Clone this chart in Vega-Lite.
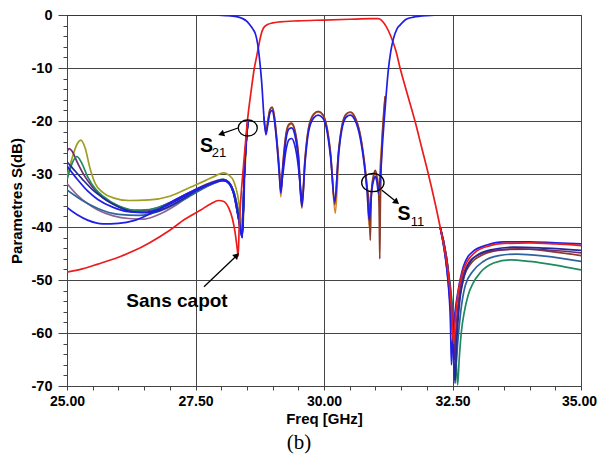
{
  "$schema": "https://vega.github.io/schema/vega-lite/v6.json",
  "width": 514,
  "height": 371,
  "autosize": "none",
  "padding": {"left": 67, "top": 15, "right": 16, "bottom": 76},
  "background": "white",
  "config": {"view": {"stroke": "#444", "strokeWidth": 1}, "font": "Liberation Sans"},
  "title": {"text": "(b)", "orient": "bottom", "anchor": "middle", "frame": "group", "dx": -25, "offset": 6, "font": "Liberation Serif", "fontSize": 21, "fontWeight": "normal", "color": "black"},
  "datasets": {
    "curves": [
      {"c":"olive","k":"o1","f":25.0,"v":-30.5},{"c":"olive","k":"o1","f":25.1,"v":-27},{"c":"olive","k":"o1","f":25.2,"v":-24.3},{"c":"olive","k":"o1","f":25.27,"v":-23.6},{"c":"olive","k":"o1","f":25.35,"v":-25},{"c":"olive","k":"o1","f":25.45,"v":-29},{"c":"olive","k":"o1","f":25.55,"v":-31.8},{"c":"olive","k":"o1","f":25.7,"v":-33.5},{"c":"olive","k":"o1","f":25.9,"v":-34.5},{"c":"olive","k":"o1","f":26.2,"v":-35},{"c":"olive","k":"o1","f":26.6,"v":-34.9},{"c":"olive","k":"o1","f":27.0,"v":-34.2},{"c":"olive","k":"o1","f":27.4,"v":-32.5},{"c":"olive","k":"o1","f":27.7,"v":-31.2},{"c":"olive","k":"o1","f":27.9,"v":-30.3},{"c":"olive","k":"o1","f":28.04,"v":-29.8},{"c":"olive","k":"o1","f":28.15,"v":-30.2},{"c":"olive","k":"o1","f":28.25,"v":-31.5},{"c":"olive","k":"o1","f":28.32,"v":-34},{"c":"olive","k":"o1","f":28.38,"v":-38},{"c":"olive","k":"o1","f":28.42,"v":-41},{"c":"olive","k":"o1","f":28.46,"v":-30},{"c":"olive","k":"o1","f":28.52,"v":-20},
      {"c":"mauve","k":"m1","f":25.0,"v":-31.8},{"c":"mauve","k":"m1","f":25.2,"v":-34},{"c":"mauve","k":"m1","f":25.4,"v":-35.6},{"c":"mauve","k":"m1","f":25.6,"v":-36.8},{"c":"mauve","k":"m1","f":25.9,"v":-37.9},{"c":"mauve","k":"m1","f":26.2,"v":-38.4},{"c":"mauve","k":"m1","f":26.5,"v":-38.5},{"c":"mauve","k":"m1","f":26.8,"v":-37.6},{"c":"mauve","k":"m1","f":27.1,"v":-36},{"c":"mauve","k":"m1","f":27.4,"v":-34},{"c":"mauve","k":"m1","f":27.7,"v":-32.4},{"c":"mauve","k":"m1","f":27.9,"v":-31.6},{"c":"mauve","k":"m1","f":28.04,"v":-31.2},{"c":"mauve","k":"m1","f":28.15,"v":-31.7},{"c":"mauve","k":"m1","f":28.25,"v":-33.5},{"c":"mauve","k":"m1","f":28.33,"v":-37},{"c":"mauve","k":"m1","f":28.41,"v":-41.5},{"c":"mauve","k":"m1","f":28.45,"v":-30},{"c":"mauve","k":"m1","f":28.52,"v":-20},
      {"c":"purple","k":"p1","f":25.0,"v":-25.8},{"c":"purple","k":"p1","f":25.04,"v":-25.2},{"c":"purple","k":"p1","f":25.1,"v":-25.7},{"c":"purple","k":"p1","f":25.2,"v":-27.8},{"c":"purple","k":"p1","f":25.35,"v":-30.5},{"c":"purple","k":"p1","f":25.5,"v":-32.5},{"c":"purple","k":"p1","f":25.7,"v":-34.5},{"c":"purple","k":"p1","f":26.0,"v":-36.1},{"c":"purple","k":"p1","f":26.3,"v":-36.9},{"c":"purple","k":"p1","f":26.6,"v":-36.8},{"c":"purple","k":"p1","f":27.0,"v":-35.4},{"c":"purple","k":"p1","f":27.4,"v":-33.4},{"c":"purple","k":"p1","f":27.7,"v":-32},{"c":"purple","k":"p1","f":27.9,"v":-31.3},{"c":"purple","k":"p1","f":28.04,"v":-31},{"c":"purple","k":"p1","f":28.15,"v":-31.6},{"c":"purple","k":"p1","f":28.25,"v":-33.5},{"c":"purple","k":"p1","f":28.33,"v":-37},{"c":"purple","k":"p1","f":28.41,"v":-41},{"c":"purple","k":"p1","f":28.45,"v":-30},{"c":"purple","k":"p1","f":28.52,"v":-20},
      {"c":"green","k":"g1","f":25.0,"v":-31.1},{"c":"green","k":"g1","f":25.1,"v":-28},{"c":"green","k":"g1","f":25.19,"v":-26.7},{"c":"green","k":"g1","f":25.28,"v":-27.8},{"c":"green","k":"g1","f":25.4,"v":-30.5},{"c":"green","k":"g1","f":25.55,"v":-32.8},{"c":"green","k":"g1","f":25.7,"v":-34.2},{"c":"green","k":"g1","f":26.0,"v":-36},{"c":"green","k":"g1","f":26.3,"v":-36.8},{"c":"green","k":"g1","f":26.6,"v":-36.7},{"c":"green","k":"g1","f":27.0,"v":-35.5},{"c":"green","k":"g1","f":27.4,"v":-33.5},{"c":"green","k":"g1","f":27.7,"v":-32.2},{"c":"green","k":"g1","f":27.9,"v":-31.4},{"c":"green","k":"g1","f":28.04,"v":-31},{"c":"green","k":"g1","f":28.15,"v":-31.6},{"c":"green","k":"g1","f":28.25,"v":-33.5},{"c":"green","k":"g1","f":28.33,"v":-37},{"c":"green","k":"g1","f":28.41,"v":-41},{"c":"green","k":"g1","f":28.45,"v":-30},{"c":"green","k":"g1","f":28.52,"v":-20},
      {"c":"teal","k":"t1","f":25.0,"v":-33},{"c":"teal","k":"t1","f":25.3,"v":-35},{"c":"teal","k":"t1","f":25.6,"v":-36.5},{"c":"teal","k":"t1","f":26.0,"v":-37.6},{"c":"teal","k":"t1","f":26.4,"v":-37.8},{"c":"teal","k":"t1","f":26.8,"v":-37},{"c":"teal","k":"t1","f":27.2,"v":-35.2},{"c":"teal","k":"t1","f":27.6,"v":-33},{"c":"teal","k":"t1","f":27.9,"v":-31.6},{"c":"teal","k":"t1","f":28.04,"v":-31.2},{"c":"teal","k":"t1","f":28.15,"v":-31.8},{"c":"teal","k":"t1","f":28.25,"v":-34},{"c":"teal","k":"t1","f":28.33,"v":-38},{"c":"teal","k":"t1","f":28.41,"v":-41.5},{"c":"teal","k":"t1","f":28.45,"v":-30},{"c":"teal","k":"t1","f":28.52,"v":-20},
      {"c":"navy","k":"n1","f":25.0,"v":-27.7},{"c":"navy","k":"n1","f":25.1,"v":-28.8},{"c":"navy","k":"n1","f":25.3,"v":-31},{"c":"navy","k":"n1","f":25.5,"v":-33},{"c":"navy","k":"n1","f":25.7,"v":-34.5},{"c":"navy","k":"n1","f":26.0,"v":-36.2},{"c":"navy","k":"n1","f":26.3,"v":-37.2},{"c":"navy","k":"n1","f":26.6,"v":-37.3},{"c":"navy","k":"n1","f":26.9,"v":-36.5},{"c":"navy","k":"n1","f":27.2,"v":-35},{"c":"navy","k":"n1","f":27.5,"v":-33.2},{"c":"navy","k":"n1","f":27.8,"v":-31.8},{"c":"navy","k":"n1","f":28.0,"v":-31.2},{"c":"navy","k":"n1","f":28.1,"v":-31.3},{"c":"navy","k":"n1","f":28.2,"v":-32.5},{"c":"navy","k":"n1","f":28.28,"v":-35},{"c":"navy","k":"n1","f":28.35,"v":-39},{"c":"navy","k":"n1","f":28.41,"v":-42},{"c":"navy","k":"n1","f":28.45,"v":-30},{"c":"navy","k":"n1","f":28.52,"v":-20},
      {"c":"blue","k":"b2","f":25.0,"v":-28.5},{"c":"blue","k":"b2","f":25.2,"v":-31},{"c":"blue","k":"b2","f":25.4,"v":-33.2},{"c":"blue","k":"b2","f":25.6,"v":-34.8},{"c":"blue","k":"b2","f":25.9,"v":-36.3},{"c":"blue","k":"b2","f":26.2,"v":-37.1},{"c":"blue","k":"b2","f":26.5,"v":-37.2},{"c":"blue","k":"b2","f":26.8,"v":-36.6},{"c":"blue","k":"b2","f":27.1,"v":-35.2},{"c":"blue","k":"b2","f":27.4,"v":-33.6},{"c":"blue","k":"b2","f":27.7,"v":-32.2},{"c":"blue","k":"b2","f":27.9,"v":-31.5},{"c":"blue","k":"b2","f":28.04,"v":-31.1},{"c":"blue","k":"b2","f":28.15,"v":-31.6},{"c":"blue","k":"b2","f":28.25,"v":-33.8},{"c":"blue","k":"b2","f":28.33,"v":-38},{"c":"blue","k":"b2","f":28.41,"v":-41.5},{"c":"blue","k":"b2","f":28.45,"v":-30},{"c":"blue","k":"b2","f":28.52,"v":-20},
      {"c":"blue","k":"b1","f":25.0,"v":-36.3},{"c":"blue","k":"b1","f":25.2,"v":-37.7},{"c":"blue","k":"b1","f":25.4,"v":-38.7},{"c":"blue","k":"b1","f":25.7,"v":-39.4},{"c":"blue","k":"b1","f":26.0,"v":-39.3},{"c":"blue","k":"b1","f":26.3,"v":-38.8},{"c":"blue","k":"b1","f":26.6,"v":-37.6},{"c":"blue","k":"b1","f":26.9,"v":-36},{"c":"blue","k":"b1","f":27.2,"v":-34.4},{"c":"blue","k":"b1","f":27.5,"v":-33},{"c":"blue","k":"b1","f":27.8,"v":-31.8},{"c":"blue","k":"b1","f":28.04,"v":-31.2},{"c":"blue","k":"b1","f":28.15,"v":-31.8},{"c":"blue","k":"b1","f":28.25,"v":-34},{"c":"blue","k":"b1","f":28.33,"v":-38},{"c":"blue","k":"b1","f":28.41,"v":-42},{"c":"blue","k":"b1","f":28.45,"v":-30},{"c":"blue","k":"b1","f":28.52,"v":-20},
      {"c":"green","k":"gh","f":32.26,"v":-40},{"c":"green","k":"gh","f":32.4,"v":-47},{"c":"green","k":"gh","f":32.5,"v":-55},{"c":"green","k":"gh","f":32.56,"v":-63},{"c":"green","k":"gh","f":32.6,"v":-69.8},{"c":"green","k":"gh","f":32.63,"v":-65},{"c":"green","k":"gh","f":32.67,"v":-60},{"c":"green","k":"gh","f":32.73,"v":-56},{"c":"green","k":"gh","f":32.8,"v":-53},{"c":"green","k":"gh","f":32.9,"v":-50.6},{"c":"green","k":"gh","f":33.05,"v":-48.5},{"c":"green","k":"gh","f":33.3,"v":-46.8},{"c":"green","k":"gh","f":33.62,"v":-46.2},{"c":"green","k":"gh","f":34.0,"v":-46.5},{"c":"green","k":"gh","f":34.5,"v":-47.2},{"c":"green","k":"gh","f":35.0,"v":-48.1},
      {"c":"teal","k":"th","f":32.26,"v":-40},{"c":"teal","k":"th","f":32.4,"v":-47},{"c":"teal","k":"th","f":32.5,"v":-56},{"c":"teal","k":"th","f":32.57,"v":-66},{"c":"teal","k":"th","f":32.6,"v":-62},{"c":"teal","k":"th","f":32.66,"v":-56},{"c":"teal","k":"th","f":32.75,"v":-51},{"c":"teal","k":"th","f":32.9,"v":-48.3},{"c":"teal","k":"th","f":33.1,"v":-46.5},{"c":"teal","k":"th","f":33.4,"v":-45.4},{"c":"teal","k":"th","f":33.75,"v":-45.1},{"c":"teal","k":"th","f":34.3,"v":-45.5},{"c":"teal","k":"th","f":35.0,"v":-46.5},
      {"c":"brown","k":"rh","f":32.26,"v":-40},{"c":"brown","k":"rh","f":32.4,"v":-47},{"c":"brown","k":"rh","f":32.48,"v":-55},{"c":"brown","k":"rh","f":32.54,"v":-64},{"c":"brown","k":"rh","f":32.57,"v":-60},{"c":"brown","k":"rh","f":32.63,"v":-54},{"c":"brown","k":"rh","f":32.72,"v":-49.5},{"c":"brown","k":"rh","f":32.85,"v":-47},{"c":"brown","k":"rh","f":33.1,"v":-45.2},{"c":"brown","k":"rh","f":33.4,"v":-44.4},{"c":"brown","k":"rh","f":33.8,"v":-44.1},{"c":"brown","k":"rh","f":34.4,"v":-44.6},{"c":"brown","k":"rh","f":35.0,"v":-45.4},
      {"c":"purple","k":"ph","f":32.26,"v":-40},{"c":"purple","k":"ph","f":32.4,"v":-47},{"c":"purple","k":"ph","f":32.49,"v":-56},{"c":"purple","k":"ph","f":32.54,"v":-65},{"c":"purple","k":"ph","f":32.58,"v":-58},{"c":"purple","k":"ph","f":32.66,"v":-51},{"c":"purple","k":"ph","f":32.8,"v":-47},{"c":"purple","k":"ph","f":33.0,"v":-45.3},{"c":"purple","k":"ph","f":33.4,"v":-44.3},{"c":"purple","k":"ph","f":34.0,"v":-44.2},{"c":"purple","k":"ph","f":35.0,"v":-44.9},
      {"c":"navy","k":"nh","f":32.26,"v":-40},{"c":"navy","k":"nh","f":32.38,"v":-47},{"c":"navy","k":"nh","f":32.46,"v":-55},{"c":"navy","k":"nh","f":32.52,"v":-63},{"c":"navy","k":"nh","f":32.55,"v":-69.5},{"c":"navy","k":"nh","f":32.58,"v":-62},{"c":"navy","k":"nh","f":32.63,"v":-55},{"c":"navy","k":"nh","f":32.72,"v":-49.5},{"c":"navy","k":"nh","f":32.85,"v":-46.5},{"c":"navy","k":"nh","f":33.0,"v":-45.2},{"c":"navy","k":"nh","f":33.3,"v":-44.2},{"c":"navy","k":"nh","f":33.7,"v":-43.8},{"c":"navy","k":"nh","f":34.3,"v":-44},{"c":"navy","k":"nh","f":35.0,"v":-44.4},
      {"c":"blue","k":"bh","f":32.26,"v":-40},{"c":"blue","k":"bh","f":32.35,"v":-45},{"c":"blue","k":"bh","f":32.42,"v":-51},{"c":"blue","k":"bh","f":32.46,"v":-58},{"c":"blue","k":"bh","f":32.48,"v":-66},{"c":"blue","k":"bh","f":32.5,"v":-62},{"c":"blue","k":"bh","f":32.55,"v":-56},{"c":"blue","k":"bh","f":32.61,"v":-52},{"c":"blue","k":"bh","f":32.71,"v":-47.5},{"c":"blue","k":"bh","f":32.8,"v":-45.6},{"c":"blue","k":"bh","f":32.9,"v":-44.6},{"c":"blue","k":"bh","f":33.17,"v":-43.4},{"c":"blue","k":"bh","f":33.49,"v":-42.8},{"c":"blue","k":"bh","f":34.0,"v":-42.8},{"c":"blue","k":"bh","f":34.5,"v":-43},{"c":"blue","k":"bh","f":35.0,"v":-43.2},
      {"c":"red","k":"r","f":25.0,"v":-48.5},{"c":"red","k":"r","f":25.3,"v":-47.9},{"c":"red","k":"r","f":25.6,"v":-47},{"c":"red","k":"r","f":26.0,"v":-45.7},{"c":"red","k":"r","f":26.3,"v":-44.5},{"c":"red","k":"r","f":26.6,"v":-43},{"c":"red","k":"r","f":27.0,"v":-40.6},{"c":"red","k":"r","f":27.3,"v":-38.5},{"c":"red","k":"r","f":27.6,"v":-36.8},{"c":"red","k":"r","f":27.8,"v":-35.6},{"c":"red","k":"r","f":27.95,"v":-35},{"c":"red","k":"r","f":28.05,"v":-35.2},{"c":"red","k":"r","f":28.15,"v":-36.5},{"c":"red","k":"r","f":28.22,"v":-38.5},{"c":"red","k":"r","f":28.27,"v":-41},{"c":"red","k":"r","f":28.31,"v":-44},{"c":"red","k":"r","f":28.33,"v":-45.5},{"c":"red","k":"r","f":28.35,"v":-40},{"c":"red","k":"r","f":28.42,"v":-30},{"c":"red","k":"r","f":28.46,"v":-25.5},{"c":"red","k":"r","f":28.51,"v":-20},{"c":"red","k":"r","f":28.58,"v":-14.5},{"c":"red","k":"r","f":28.645,"v":-10},{"c":"red","k":"r","f":28.69,"v":-7.8},{"c":"red","k":"r","f":28.73,"v":-5.8},{"c":"red","k":"r","f":28.77,"v":-3.9},{"c":"red","k":"r","f":28.82,"v":-2.5},{"c":"red","k":"r","f":28.9,"v":-1.8},{"c":"red","k":"r","f":29.0,"v":-1.5},{"c":"red","k":"r","f":29.14,"v":-1.3},{"c":"red","k":"r","f":29.5,"v":-1.1},{"c":"red","k":"r","f":30.0,"v":-0.95},{"c":"red","k":"r","f":30.5,"v":-0.8},{"c":"red","k":"r","f":30.9,"v":-0.7},{"c":"red","k":"r","f":31.05,"v":-0.7},{"c":"red","k":"r","f":31.12,"v":-1},{"c":"red","k":"r","f":31.2,"v":-2},{"c":"red","k":"r","f":31.3,"v":-4},{"c":"red","k":"r","f":31.4,"v":-6.8},{"c":"red","k":"r","f":31.48,"v":-10},{"c":"red","k":"r","f":31.6,"v":-14.2},{"c":"red","k":"r","f":31.77,"v":-20},{"c":"red","k":"r","f":31.9,"v":-25},{"c":"red","k":"r","f":32.03,"v":-30},{"c":"red","k":"r","f":32.15,"v":-35},{"c":"red","k":"r","f":32.26,"v":-40},{"c":"red","k":"r","f":32.35,"v":-44.5},{"c":"red","k":"r","f":32.42,"v":-49},{"c":"red","k":"r","f":32.47,"v":-54},{"c":"red","k":"r","f":32.52,"v":-62},{"c":"red","k":"r","f":32.55,"v":-58},{"c":"red","k":"r","f":32.6,"v":-53},{"c":"red","k":"r","f":32.68,"v":-49},{"c":"red","k":"r","f":32.8,"v":-46.3},{"c":"red","k":"r","f":32.95,"v":-44.7},{"c":"red","k":"r","f":33.2,"v":-43.6},{"c":"red","k":"r","f":33.5,"v":-43.1},{"c":"red","k":"r","f":34.0,"v":-43},{"c":"red","k":"r","f":34.5,"v":-43.2},{"c":"red","k":"r","f":35.0,"v":-43.5},
      {"c":"orange","k":"os","f":28.83,"v":-19.5},{"c":"orange","k":"os","f":28.87,"v":-22.2},{"c":"orange","k":"os","f":28.91,"v":-20},{"c":"orange","k":"os","f":28.95,"v":-17.9},{"c":"orange","k":"os","f":28.99,"v":-17.5},{"c":"orange","k":"os","f":29.03,"v":-19},{"c":"orange","k":"os","f":29.08,"v":-23.5},{"c":"orange","k":"os","f":29.13,"v":-29.5},{"c":"orange","k":"os","f":29.16,"v":-34.3},{"c":"orange","k":"os","f":29.2,"v":-28.5},{"c":"orange","k":"os","f":29.26,"v":-22.8},{"c":"orange","k":"os","f":29.32,"v":-20.8},{"c":"orange","k":"os","f":29.37,"v":-20.6},{"c":"orange","k":"os","f":29.43,"v":-21.8},{"c":"orange","k":"os","f":29.5,"v":-26.5},{"c":"orange","k":"os","f":29.57,"v":-36.5},{"c":"orange","k":"os","f":29.63,"v":-27.5},{"c":"orange","k":"os","f":29.7,"v":-21.5},{"c":"orange","k":"os","f":29.8,"v":-18.8},{"c":"orange","k":"os","f":29.89,"v":-18.3},{"c":"orange","k":"os","f":29.98,"v":-18.9},{"c":"orange","k":"os","f":30.06,"v":-21.5},{"c":"orange","k":"os","f":30.13,"v":-26.5},{"c":"orange","k":"os","f":30.22,"v":-37.4},{"c":"orange","k":"os","f":30.29,"v":-26},{"c":"orange","k":"os","f":30.36,"v":-20.5},{"c":"orange","k":"os","f":30.44,"v":-18.7},{"c":"orange","k":"os","f":30.51,"v":-18.4},{"c":"orange","k":"os","f":30.6,"v":-19.3},{"c":"orange","k":"os","f":30.7,"v":-22.5},{"c":"orange","k":"os","f":30.78,"v":-27.5},{"c":"orange","k":"os","f":30.84,"v":-33},{"c":"orange","k":"os","f":30.88,"v":-40},{"c":"orange","k":"os","f":30.93,"v":-32.5},{"c":"orange","k":"os","f":30.97,"v":-30.3},{"c":"orange","k":"os","f":31.0,"v":-29.8},{"c":"orange","k":"os","f":31.03,"v":-31},{"c":"orange","k":"os","f":31.06,"v":-33},{"c":"orange","k":"os","f":31.1,"v":-27.5},{"c":"orange","k":"os","f":31.15,"v":-20.5},{"c":"orange","k":"os","f":31.19,"v":-15.5},
      {"c":"brown","k":"rs","f":28.83,"v":-19.2},{"c":"brown","k":"rs","f":28.87,"v":-22},{"c":"brown","k":"rs","f":28.91,"v":-19.8},{"c":"brown","k":"rs","f":28.95,"v":-17.8},{"c":"brown","k":"rs","f":28.99,"v":-17.4},{"c":"brown","k":"rs","f":29.03,"v":-18.8},{"c":"brown","k":"rs","f":29.08,"v":-23.2},{"c":"brown","k":"rs","f":29.13,"v":-29},{"c":"brown","k":"rs","f":29.16,"v":-33.2},{"c":"brown","k":"rs","f":29.2,"v":-28.2},{"c":"brown","k":"rs","f":29.26,"v":-22.5},{"c":"brown","k":"rs","f":29.32,"v":-20.6},{"c":"brown","k":"rs","f":29.37,"v":-20.4},{"c":"brown","k":"rs","f":29.43,"v":-21.6},{"c":"brown","k":"rs","f":29.5,"v":-26},{"c":"brown","k":"rs","f":29.57,"v":-35.8},{"c":"brown","k":"rs","f":29.63,"v":-27.2},{"c":"brown","k":"rs","f":29.7,"v":-21.3},{"c":"brown","k":"rs","f":29.8,"v":-18.7},{"c":"brown","k":"rs","f":29.89,"v":-18.2},{"c":"brown","k":"rs","f":29.98,"v":-18.8},{"c":"brown","k":"rs","f":30.06,"v":-21.3},{"c":"brown","k":"rs","f":30.13,"v":-26.3},{"c":"brown","k":"rs","f":30.21,"v":-35.8},{"c":"brown","k":"rs","f":30.28,"v":-26},{"c":"brown","k":"rs","f":30.36,"v":-20.4},{"c":"brown","k":"rs","f":30.44,"v":-18.6},{"c":"brown","k":"rs","f":30.51,"v":-18.3},{"c":"brown","k":"rs","f":30.6,"v":-19.2},{"c":"brown","k":"rs","f":30.7,"v":-22.3},{"c":"brown","k":"rs","f":30.78,"v":-27.3},{"c":"brown","k":"rs","f":30.84,"v":-32.5},{"c":"brown","k":"rs","f":30.88,"v":-36},{"c":"brown","k":"rs","f":30.9,"v":-42.5},{"c":"brown","k":"rs","f":30.92,"v":-34},{"c":"brown","k":"rs","f":30.97,"v":-30},{"c":"brown","k":"rs","f":31.0,"v":-29.3},{"c":"brown","k":"rs","f":31.03,"v":-30.5},{"c":"brown","k":"rs","f":31.06,"v":-33},{"c":"brown","k":"rs","f":31.075,"v":-38},{"c":"brown","k":"rs","f":31.085,"v":-46},{"c":"brown","k":"rs","f":31.095,"v":-37},{"c":"brown","k":"rs","f":31.12,"v":-26},{"c":"brown","k":"rs","f":31.15,"v":-20.2},{"c":"brown","k":"rs","f":31.19,"v":-15.3},
      {"c":"blue","k":"bs2","f":29.16,"v":-33},{"c":"blue","k":"bs2","f":29.2,"v":-30},{"c":"blue","k":"bs2","f":29.26,"v":-25.5},{"c":"blue","k":"bs2","f":29.32,"v":-23.5},{"c":"blue","k":"bs2","f":29.37,"v":-23.3},{"c":"blue","k":"bs2","f":29.43,"v":-24.5},{"c":"blue","k":"bs2","f":29.5,"v":-28.5},{"c":"blue","k":"bs2","f":29.57,"v":-35.5},
      {"c":"blue","k":"bs","f":25.0,"v":0},{"c":"blue","k":"bs","f":26.0,"v":0},{"c":"blue","k":"bs","f":27.0,"v":0},{"c":"blue","k":"bs","f":27.8,"v":0},{"c":"blue","k":"bs","f":28.1,"v":-0.1},{"c":"blue","k":"bs","f":28.3,"v":-0.3},{"c":"blue","k":"bs","f":28.4,"v":-0.6},{"c":"blue","k":"bs","f":28.5,"v":-1.2},{"c":"blue","k":"bs","f":28.56,"v":-1.9},{"c":"blue","k":"bs","f":28.62,"v":-2.7},{"c":"blue","k":"bs","f":28.67,"v":-3.7},{"c":"blue","k":"bs","f":28.71,"v":-5.5},{"c":"blue","k":"bs","f":28.75,"v":-8.7},{"c":"blue","k":"bs","f":28.79,"v":-13},{"c":"blue","k":"bs","f":28.83,"v":-19},{"c":"blue","k":"bs","f":28.87,"v":-22.6},{"c":"blue","k":"bs","f":28.91,"v":-20.5},{"c":"blue","k":"bs","f":28.95,"v":-18.4},{"c":"blue","k":"bs","f":28.99,"v":-18},{"c":"blue","k":"bs","f":29.03,"v":-19.5},{"c":"blue","k":"bs","f":29.08,"v":-24},{"c":"blue","k":"bs","f":29.13,"v":-30},{"c":"blue","k":"bs","f":29.16,"v":-33.6},{"c":"blue","k":"bs","f":29.2,"v":-29},{"c":"blue","k":"bs","f":29.26,"v":-23.5},{"c":"blue","k":"bs","f":29.32,"v":-21.5},{"c":"blue","k":"bs","f":29.37,"v":-21.3},{"c":"blue","k":"bs","f":29.43,"v":-22.5},{"c":"blue","k":"bs","f":29.5,"v":-27},{"c":"blue","k":"bs","f":29.57,"v":-36.2},{"c":"blue","k":"bs","f":29.63,"v":-28},{"c":"blue","k":"bs","f":29.7,"v":-22},{"c":"blue","k":"bs","f":29.8,"v":-19.4},{"c":"blue","k":"bs","f":29.89,"v":-18.9},{"c":"blue","k":"bs","f":29.98,"v":-19.5},{"c":"blue","k":"bs","f":30.06,"v":-22},{"c":"blue","k":"bs","f":30.13,"v":-27},{"c":"blue","k":"bs","f":30.21,"v":-35.2},{"c":"blue","k":"bs","f":30.28,"v":-26.5},{"c":"blue","k":"bs","f":30.36,"v":-21},{"c":"blue","k":"bs","f":30.44,"v":-19.2},{"c":"blue","k":"bs","f":30.51,"v":-18.9},{"c":"blue","k":"bs","f":30.6,"v":-19.8},{"c":"blue","k":"bs","f":30.7,"v":-23},{"c":"blue","k":"bs","f":30.78,"v":-28},{"c":"blue","k":"bs","f":30.84,"v":-33.5},{"c":"blue","k":"bs","f":30.88,"v":-38.7},{"c":"blue","k":"bs","f":30.93,"v":-33},{"c":"blue","k":"bs","f":30.97,"v":-31},{"c":"blue","k":"bs","f":31.0,"v":-30.5},{"c":"blue","k":"bs","f":31.03,"v":-31.5},{"c":"blue","k":"bs","f":31.06,"v":-33.6},{"c":"blue","k":"bs","f":31.1,"v":-30},{"c":"blue","k":"bs","f":31.14,"v":-24},{"c":"blue","k":"bs","f":31.17,"v":-20},{"c":"blue","k":"bs","f":31.21,"v":-15},{"c":"blue","k":"bs","f":31.25,"v":-10.5},{"c":"blue","k":"bs","f":31.3,"v":-6.8},{"c":"blue","k":"bs","f":31.35,"v":-4.5},{"c":"blue","k":"bs","f":31.42,"v":-2.6},{"c":"blue","k":"bs","f":31.48,"v":-1.9},{"c":"blue","k":"bs","f":31.6,"v":-0.8},{"c":"blue","k":"bs","f":31.74,"v":-0.4},{"c":"blue","k":"bs","f":32.0,"v":-0.1},{"c":"blue","k":"bs","f":32.3,"v":0},{"c":"blue","k":"bs","f":33.0,"v":0},{"c":"blue","k":"bs","f":35.0,"v":0}
    ],
    "arrows": [
      {"f":28.327,"v":-21.32,"f2":27.998,"v2":-22.45},
      {"f":31.122,"v":-33.02,"f2":31.414,"v2":-35.3},
      {"f":27.665,"v":-51.26,"f2":28.304,"v2":-45.36}
    ]
  },
  "layer": [
    {
      "data": {"name": "curves"},
      "mark": {"type": "line", "strokeWidth": 1.7, "interpolate": "monotone", "clip": true},
      "encoding": {
        "x": {"field": "f", "type": "quantitative", "scale": {"domain": [25, 35], "nice": false, "zero": false},
          "axis": {"values": [25,25.5,26,26.5,27,27.5,28,28.5,29,29.5,30,30.5,31,31.5,32,32.5,33,33.5,34,34.5,35],
            "tickCount": 200,
            "labelExpr": "datum.value % 2.5 === 0 ? format(datum.value, '.2f') : ''",
            "labelFont": "Liberation Sans", "labelFontSize": 14, "labelFontWeight": "bold", "labelColor": "black",
            "labelPadding": 4, "labelOverlap": false, "labelFlush": false,
            "labelOffset": {"condition": {"test": "datum.value === 35", "value": -2}, "value": 0},
            "tickSize": 4, "tickColor": "#444", "domainColor": "#444",
            "grid": true, "gridColor": "#444", "gridWidth": 1,
            "gridOpacity": {"condition": {"test": "datum.value % 2.5 === 0", "value": 1}, "value": 0},
            "title": "Freq [GHz]", "titleFont": "Liberation Sans", "titleFontSize": 15, "titleFontWeight": "bold", "titleColor": "black", "titlePadding": 3}},
        "y": {"field": "v", "type": "quantitative", "scale": {"domain": [-70, 0], "nice": false, "zero": false},
          "axis": {"values": [-70,-68,-66,-64,-62,-60,-58,-56,-54,-52,-50,-48,-46,-44,-42,-40,-38,-36,-34,-32,-30,-28,-26,-24,-22,-20,-18,-16,-14,-12,-10,-8,-6,-4,-2,0],
            "tickCount": 200,
            "labelExpr": "datum.value % 10 === 0 ? '' + datum.value : ''",
            "labelFont": "Liberation Sans", "labelFontSize": 14.5, "labelFontWeight": "bold", "labelColor": "black",
            "labelPadding": 6, "labelOverlap": false, "labelFlush": false,
            "tickSize": {"condition": {"test": "datum.value % 10 === 0", "value": 9}, "value": 4},
            "tickColor": "#444", "domainColor": "#444",
            "grid": true, "gridColor": "#444", "gridWidth": 1,
            "gridOpacity": {"condition": {"test": "datum.value % 10 === 0", "value": 1}, "value": 0},
            "title": "Parametres S(dB)", "titleFont": "Liberation Sans", "titleFontSize": 15, "titleFontWeight": "bold", "titleColor": "black", "titlePadding": 7}},
        "color": {"field": "c", "type": "nominal", "legend": null,
          "scale": {"domain": ["olive","mauve","purple","green","teal","navy","blue","brown","red","orange"],
                    "range": ["#9e9e24","#8c6390","#6e2c72","#1e8a5e","#2f639e","#24289a","#1e1ee6","#8b3a2c","#ec1c1c","#d9821f"]}},
        "detail": {"field": "k"}
      }
    },
    {
      "data": {"values": [{"f": 28.517, "v": -21.32}]},
      "mark": {"type": "point", "shape": "M-1,0A1,0.84 0 1,1 1,0A1,0.84 0 1,1 -1,0Z", "filled": false, "color": "black", "strokeWidth": 1.3, "size": 361, "opacity": 1},
      "encoding": {"x": {"field": "f", "type": "quantitative"}, "y": {"field": "v", "type": "quantitative"}}
    },
    {
      "data": {"values": [{"f": 30.95, "v": -31.6}]},
      "mark": {"type": "point", "shape": "M-1,0A1,0.82 0 1,1 1,0A1,0.82 0 1,1 -1,0Z", "filled": false, "color": "black", "strokeWidth": 1.3, "size": 502, "opacity": 1},
      "encoding": {"x": {"field": "f", "type": "quantitative"}, "y": {"field": "v", "type": "quantitative"}}
    },
    {
      "data": {"name": "arrows"},
      "mark": {"type": "rule", "color": "black", "strokeWidth": 1.3},
      "encoding": {"x": {"field": "f", "type": "quantitative"}, "y": {"field": "v", "type": "quantitative"}, "x2": {"field": "f2"}, "y2": {"field": "v2"}}
    },
    {
      "data": {"values": [{"f": 27.998, "v": -22.45}]},
      "mark": {"type": "point", "shape": "triangle-up", "filled": true, "color": "black", "size": 50, "angle": 251, "opacity": 1},
      "encoding": {"x": {"field": "f", "type": "quantitative"}, "y": {"field": "v", "type": "quantitative"}}
    },
    {
      "data": {"values": [{"f": 31.414, "v": -35.3}]},
      "mark": {"type": "point", "shape": "triangle-up", "filled": true, "color": "black", "size": 50, "angle": 129, "opacity": 1},
      "encoding": {"x": {"field": "f", "type": "quantitative"}, "y": {"field": "v", "type": "quantitative"}}
    },
    {
      "data": {"values": [{"f": 28.304, "v": -45.36}]},
      "mark": {"type": "point", "shape": "triangle-up", "filled": true, "color": "black", "size": 50, "angle": 46, "opacity": 1},
      "encoding": {"x": {"field": "f", "type": "quantitative"}, "y": {"field": "v", "type": "quantitative"}}
    },
    {
      "data": {"values": [{"f": 27.714, "v": -25.85, "t": "S"}, {"f": 31.556, "v": -38.68, "t": "S"}]},
      "mark": {"type": "text", "font": "Liberation Sans", "fontSize": 19.5, "fontWeight": "bold", "align": "center", "baseline": "alphabetic", "color": "black"},
      "encoding": {"x": {"field": "f", "type": "quantitative"}, "y": {"field": "v", "type": "quantitative"}, "text": {"field": "t"}}
    },
    {
      "data": {"values": [{"f": 27.957, "v": -26.8, "t": "21"}, {"f": 31.82, "v": -39.8, "t": "11"}]},
      "mark": {"type": "text", "font": "Liberation Sans", "fontSize": 13, "fontWeight": "normal", "align": "center", "baseline": "alphabetic", "color": "black"},
      "encoding": {"x": {"field": "f", "type": "quantitative"}, "y": {"field": "v", "type": "quantitative"}, "text": {"field": "t"}}
    },
    {
      "data": {"values": [{"f": 27.14, "v": -55.1, "t": "Sans capot"}]},
      "mark": {"type": "text", "font": "Liberation Sans", "fontSize": 19, "fontWeight": "bold", "align": "center", "baseline": "alphabetic", "color": "black"},
      "encoding": {"x": {"field": "f", "type": "quantitative"}, "y": {"field": "v", "type": "quantitative"}, "text": {"field": "t"}}
    }
  ]
}
